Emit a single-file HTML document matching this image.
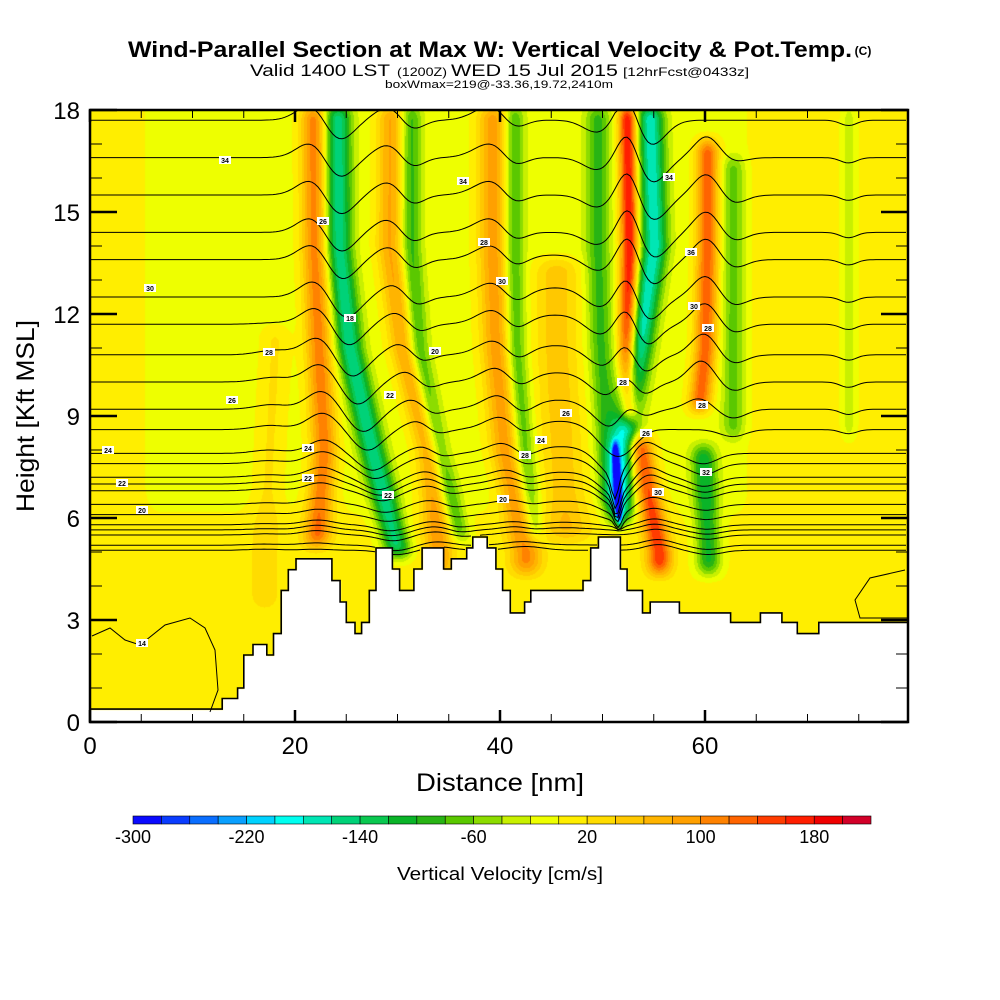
<!DOCTYPE html>
<html><head><meta charset="utf-8"><style>
html,body{margin:0;padding:0;background:#fff;width:1000px;height:1000px;overflow:hidden}
#wrap{position:relative;width:1000px;height:1000px}
canvas{position:absolute;left:90px;top:110px}
svg{position:absolute;left:0;top:0}
text{font-family:"Liberation Sans",sans-serif;fill:#000}
</style></head><body>
<div id="wrap">
<canvas id="field" width="818" height="612"></canvas>
<svg id="svg" width="1000" height="1000">
<text x="490" y="57" font-size="22" font-weight="bold" text-anchor="middle" textLength="724" lengthAdjust="spacingAndGlyphs">Wind-Parallel Section at Max W: Vertical Velocity &amp; Pot.Temp.</text>
<text x="863" y="55" font-size="12" font-weight="bold" text-anchor="middle">(C)</text>
<text x="250" y="76" font-size="17" textLength="140" lengthAdjust="spacingAndGlyphs">Valid 1400 LST</text>
<text x="397" y="76" font-size="12" textLength="50" lengthAdjust="spacingAndGlyphs">(1200Z)</text>
<text x="451" y="76" font-size="17" textLength="167" lengthAdjust="spacingAndGlyphs">WED 15 Jul 2015</text>
<text x="623" y="76" font-size="12" textLength="126" lengthAdjust="spacingAndGlyphs">[12hrFcst@0433z]</text>
<text x="499" y="88" font-size="11" text-anchor="middle" textLength="228" lengthAdjust="spacingAndGlyphs">boxWmax=219@-33.36,19.72,2410m</text>
<g id="terrain"></g>
<g id="contours"></g>
<g id="clabels"></g>
<rect x="90" y="110" width="818" height="612" fill="none" stroke="#000" stroke-width="2.5"/>
<g id="axes"></g>
<text x="500" y="791" font-size="25" text-anchor="middle" textLength="168" lengthAdjust="spacingAndGlyphs">Distance [nm]</text>
<text transform="translate(34,416) rotate(-90)" font-size="25" text-anchor="middle" textLength="192" lengthAdjust="spacingAndGlyphs">Height [Kft MSL]</text>
<g id="cbar"></g>
<text x="500" y="880" font-size="18" text-anchor="middle" textLength="206" lengthAdjust="spacingAndGlyphs">Vertical Velocity [cm/s]</text>
</svg>
</div>
<script>
// ---- data ----
const colorLevels = [-300,-280,-260,-240,-220,-200,-180,-160,-140,-120,-100,-80,-60,-40,-20,0,20,40,60,80,100,120,140,160,180,200];
const colorHex = ["#0a0aff","#0a3cff","#0a6eff","#0aa0ff","#00d2ff","#00fff0","#00e6b4","#00d278","#0ac850","#0ab428","#28b414","#5ac800","#8cdc00","#c8f000","#eeff00","#ffee00","#ffdc00","#ffc800","#ffb400","#ffa000","#ff8200","#ff6400","#ff3c00","#ff1e00","#f00000","#d20028"];
const cbarTicks = [-300,-220,-140,-60,20,100,180];
const xTicks = [0,20,40,60];
const yTicks = [0,3,6,9,12,15,18];
const plumeLevels = [18,14,11,8,5];
const plumeAmp = [-150,120,90,-80,100,-80,60,-80,190,-170,-250,140,150,-110,-60,-35,30];
const plumeW   = [1.3,1.3,1.3,1.0,1.5,1.0,2.2,1.2,0.9,1.3,0.3,1.1,1.2,1.2,1.1,0.7,1.4];
const plumeX = [
 [24.1,24.2,25.3,27.5,30.0],
 [21.8,21.9,22.3,22.8,22.0],
 [29.3,29.2,30.5,33.0,34.0],
 [31.3,31.3,32.0,34.0,36.5],
 [39.3,39.3,39.6,40.5,42.5],
 [41.3,41.3,41.5,42.3,43.5],
 [45.5,45.5,45.5,46.0,46.5],
 [49.5,49.5,49.8,50.5,51.2],
 [52.4,52.6,52.4,52.6,52.8],
 [54.6,55.0,53.5,51.8,51.5],
 [51.0,51.0,51.0,51.2,51.8],
 [60.2,60.2,60.0,59.0,58.5],
 [53.5,53.5,53.5,53.7,55.5],
 [59.8,59.8,59.8,59.8,60.3],
 [62.7,62.7,62.7,62.7,62.7],
 [74.0,74.0,74.0,74.0,74.0],
 [18.0,18.0,18.0,17.5,17.0]];
const plumeLo = [4.5,4.8,4.0,5.0,4.0,5.0,5.0,6.0,8.5,5.5,5.5,8.8,4.0,4.0,8.0,8.0,3.0];
const plumeHi = [18.5,18.5,18.5,18.5,18.5,18.5,14.0,18.5,18.5,18.5,8.5,17.5,8.8,8.5,17.0,18.5,12.0];
const terrainX = [0,12.9,14.4,15.0,15.9,17.25,17.9,18.65,19.35,20.1,23.6,24.4,25.0,25.85,26.5,27.25,27.9,29.5,30.2,31.6,32.4,34.5,35.25,36.75,37.35,38.75,39.6,40.25,41.0,42.4,43.0,48.1,48.85,49.6,51.75,52.4,53.9,54.65,57.5,62.5,65.4,67.5,69.0,71.1];
const terrainH = [0.38,0.69,1.0,1.97,2.28,1.97,2.6,3.87,4.48,4.8,4.16,3.53,2.93,2.6,2.93,3.87,5.12,4.5,3.87,4.5,5.12,4.5,4.8,5.12,5.44,5.12,4.5,3.87,3.21,3.53,3.87,4.16,5.12,5.44,4.5,3.87,3.21,3.53,3.21,2.93,3.21,2.93,2.6,2.93];
const contourBase = [17.7,16.6,15.5,14.4,13.6,12.5,11.7,10.8,10.0,9.2,8.6,7.9,7.6,7.2,7.0,6.8,6.4,6.1,5.8,5.65,5.5,5.2,5.05];
const contourLabels = [[225,160,"34"],[463,181,"34"],[150,288,"30"],[269,352,"28"],[232,400,"26"],[108,450,"24"],[122,483,"22"],[142,510,"20"],[323,221,"26"],[350,318,"18"],[435,351,"20"],[390,395,"22"],[308,448,"24"],[308,478,"22"],[388,495,"22"],[484,242,"28"],[502,281,"30"],[566,413,"26"],[541,440,"24"],[525,455,"28"],[503,499,"20"],[623,382,"28"],[646,433,"26"],[658,492,"30"],[669,177,"34"],[691,252,"36"],[694,306,"30"],[708,328,"28"],[702,405,"28"],[706,472,"32"],[142,643,"14"]];

// ---- axis functions ----
const PX0=90, PX1=908, PY0=110, PY1=722, XMAX=(908-90)/10.25;
const sx = d => PX0 + d*10.25;
const sy = h => PY1 - h*34;
const NS="http://www.w3.org/2000/svg";
function mk(tag, attrs, parent){const e=document.createElementNS(NS,tag);for(const k in attrs)e.setAttribute(k,attrs[k]);parent.appendChild(e);return e;}

function terrainAt(x){let h=terrainH[0];for(let i=0;i<terrainX.length;i++){if(x>=terrainX[i])h=terrainH[i];}return h;}
function plumeXAt(p,h){const xs=plumeX[p];if(h>=plumeLevels[0])return xs[0];
 for(let i=0;i<plumeLevels.length-1;i++){const a=plumeLevels[i],b=plumeLevels[i+1];if(h<=a&&h>=b){const t=(a-h)/(a-b);return xs[i]+t*(xs[i+1]-xs[i]);}}
 return xs[xs.length-1];}
function sm(t){t=Math.max(0,Math.min(1,t));return t*t*(3-2*t);}
function wPert(x,h,wf){let s=0;for(let p=0;p<plumeAmp.length;p++){const env=sm((h-plumeLo[p])/0.8)*sm((plumeHi[p]-h)/0.8);if(env<=0)continue;const d=(x-plumeXAt(p,h))/(plumeW[p]*wf);s+=plumeAmp[p]*Math.exp(-d*d)*env;}return s;}
function bg(x,h){const up=sm((h-5.5)/1.5);const lime=sm((x-4)/3)*(1-sm((x-63)/2));return 6-14*up*lime;}

// ---- field ----
const cv=document.getElementById('field'),ctx=cv.getContext('2d');
const img=ctx.createImageData(818,612);
const rgb=colorHex.map(c=>[parseInt(c.substr(1,2),16),parseInt(c.substr(3,2),16),parseInt(c.substr(5,2),16)]);
for(let px=0;px<818;px++){const x=px/10.25;const th=terrainAt(x);
 for(let py=0;py<612;py++){const h=(612-py)/34;let c;const i=(py*818+px)*4;
  if(h<th){c=[255,255,255];}else{const v=bg(x,h)+wPert(x,h,1);let k=Math.floor((v+300)/20);k=Math.max(0,Math.min(25,k));c=rgb[k];}
  img.data[i]=c[0];img.data[i+1]=c[1];img.data[i+2]=c[2];img.data[i+3]=255;}}
ctx.putImageData(img,0,0);

// ---- terrain outline ----
(function(){const g=document.getElementById('terrain');let d="M"+PX0+","+sy(terrainH[0]);
 for(let i=1;i<terrainX.length;i++){d+=" L"+sx(terrainX[i]).toFixed(1)+","+sy(terrainH[i-1]).toFixed(1)+" L"+sx(terrainX[i]).toFixed(1)+","+sy(terrainH[i]).toFixed(1);}
 d+=" L"+PX1+","+sy(terrainH[terrainH.length-1]).toFixed(1);
 const p=mk('path',{d:d,fill:'none',stroke:'#000','stroke-width':1.6},g);
 
 })();

// ---- contours ----
(function(){const g=document.getElementById('contours');
 contourBase.forEach((h0,ci)=>{let d="";let pen=false;const damp=0.25+0.75*sm((h0-5.5)/4);
  for(let px=0;px<=818;px+=3){const x=px/10.25;const h=h0+0.45*damp*wPert(x,h0,1.6)/100;
   if(h<terrainAt(x)+0.05){pen=false;continue;}
   d+=(pen?" L":" M")+(PX0+px).toFixed(1)+","+sy(Math.min(h,18)).toFixed(1);pen=true;}
  const p=mk('path',{d:d,fill:'none',stroke:'#000','stroke-width':1},g);
  
  });
 const p2=mk('path',{d:"M92,636 L110,628 L125,640 L140,645 L165,625 L190,618 L205,628 L215,650 L218,690 L210,712",fill:'none',stroke:'#000','stroke-width':1},g);
 
 
 const p3=mk('path',{d:"M905,570 L870,578 L855,600 L860,618 L908,618",fill:'none',stroke:'#000','stroke-width':1},g);
 
 
 const lg=document.getElementById('clabels');
 contourLabels.forEach(l=>{const r=mk('rect',{x:l[0]-6,y:l[1]-4,width:12,height:8,fill:'#fff'},lg);
  
  
  const t=mk('text',{x:l[0],y:l[1]+3,'font-size':7,'font-weight':'bold','text-anchor':'middle'},lg);t.textContent=l[2];
  
  });})();

// ---- axes ----
(function(){const g=document.getElementById('axes');
 for(let n=0;n<=XMAX;n+=5){const X=sx(n);const major=(n%20===0);const L=major?12:8;
  mk('line',{x1:X,y1:PY1,x2:X,y2:PY1-L,stroke:'#000','stroke-width':major?2.5:1},g);
  mk('line',{x1:X,y1:PY0,x2:X,y2:PY0+L,stroke:'#000','stroke-width':major?2.5:1},g);}
 for(let h=0;h<=18;h+=1){const Y=sy(h);const major=(h%3===0);const L=major?27:12;
  mk('line',{x1:PX0,y1:Y,x2:PX0+(major?27:12),y2:Y,stroke:'#000','stroke-width':major?2.5:1},g);
  mk('line',{x1:PX1,y1:Y,x2:PX1-L,y2:Y,stroke:'#000','stroke-width':major?2.5:1},g);}
 xTicks.forEach(v=>{const t=mk('text',{x:sx(v),y:754,'font-size':24,'text-anchor':'middle'},g);t.textContent=v;
  
  });
 yTicks.forEach(v=>{const t=mk('text',{x:80,y:sy(v)+9,'font-size':24,'text-anchor':'end'},g);t.textContent=v;
  
  });})();

// ---- colorbar ----
(function(){const g=document.getElementById('cbar');const X0=133,X1=871,bw=(X1-X0)/colorHex.length;
 colorHex.forEach((c,i)=>{const r=mk('rect',{x:X0+i*bw,y:816,width:bw,height:8,fill:c,stroke:'#000','stroke-width':0.6},g);
  
  });
 cbarTicks.forEach(v=>{const i=colorLevels.indexOf(v);const t=mk('text',{x:X0+i*bw,y:843,'font-size':18,'text-anchor':'middle'},g);t.textContent=v;
  
  });})();
</script>
</body></html>
